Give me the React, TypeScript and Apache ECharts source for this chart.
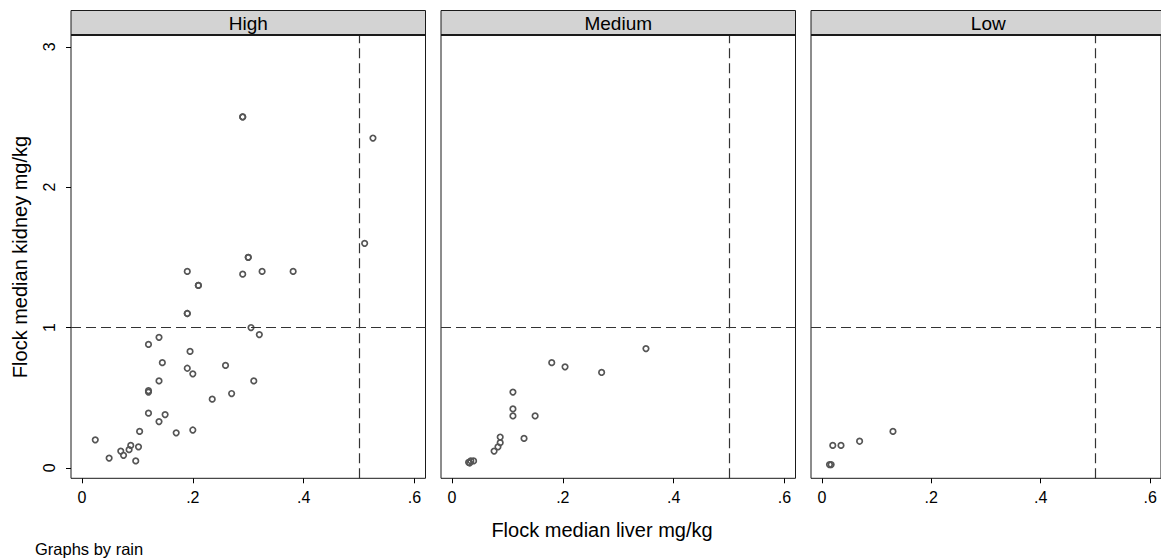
import React, { useEffect, useRef } from "react";
import * as echarts from "echarts";

const panelNames = ["High", "Medium", "Low"];

const highX = [0.510, 0.300, 0.300, 0.190, 0.290, 0.325, 0.381, 0.210, 0.210, 0.190, 0.190, 0.305, 0.320, 0.139, 0.120, 0.195, 0.145, 0.259, 0.190, 0.200, 0.139, 0.310, 0.120, 0.120, 0.270, 0.235, 0.120, 0.150, 0.139, 0.104, 0.170, 0.200, 0.024, 0.088, 0.070, 0.085, 0.102, 0.075, 0.049, 0.097, 0.290, 0.290, 0.525];
const highY = [1.60, 1.50, 1.50, 1.40, 1.38, 1.40, 1.40, 1.30, 1.30, 1.10, 1.10, 1.00, 0.95, 0.93, 0.88, 0.83, 0.75, 0.73, 0.71, 0.67, 0.62, 0.62, 0.55, 0.54, 0.53, 0.49, 0.39, 0.38, 0.33, 0.26, 0.25, 0.27, 0.20, 0.16, 0.12, 0.13, 0.15, 0.09, 0.07, 0.05, 2.50, 2.50, 2.35];

const mediumX = [0.350, 0.180, 0.204, 0.270, 0.110, 0.110, 0.110, 0.150, 0.087, 0.130, 0.087, 0.083, 0.076, 0.030, 0.034, 0.039, 0.032];
const mediumY = [0.85, 0.75, 0.72, 0.68, 0.54, 0.42, 0.37, 0.37, 0.22, 0.21, 0.18, 0.15, 0.12, 0.04, 0.05, 0.05, 0.035];

const lowX = [0.130, 0.069, 0.020, 0.035, 0.014, 0.017];
const lowY = [0.26, 0.19, 0.16, 0.16, 0.024, 0.024];

const xTicks = [0, 0.2, 0.4, 0.6];
const yTicks = [0, 1, 2, 3];
const xRef = 0.5;
const yRef = 1;

const yTitle = "Flock median kidney mg/kg";
const xTitle = "Flock median liver mg/kg";
const note = "Graphs by rain";

const FONT = "'Liberation Sans', Arial, sans-serif";

export default function App() {
  const ref = useRef<HTMLDivElement>(null);
  useEffect(() => {
    if (!ref.current) return;
    const chart = echarts.init(ref.current, null, { renderer: "svg" });
    const lefts = [71, 441, 811];
    const width = 354.5;
    const top = 35;
    const height = 443.3;
    const panelsData = [
      [highX, highY],
      [mediumX, mediumY],
      [lowX, lowY],
    ];
    const fmtX = (v: number) => (v === 0 ? "0" : v.toFixed(1).replace(/^0/, ""));

    const grids = lefts.map((l) => ({
      left: l,
      top,
      width,
      height,
      show: true,
      borderColor: "#1a1a1a",
      borderWidth: 1,
      backgroundColor: "#fff",
    }));
    const xAxes = lefts.map((_, i) => ({
      type: "value",
      gridIndex: i,
      min: -0.0198,
      max: 0.6198,
      axisLine: { show: false, onZero: false },
      splitLine: { show: false },
      axisTick: {
        show: true,
        customValues: xTicks,
        length: 5,
        lineStyle: { color: "#000", width: 1 },
      },
      axisLabel: {
        customValues: xTicks,
        formatter: fmtX,
        color: "#000",
        fontSize: 16,
        fontFamily: FONT,
        margin: 11,
      },
    }));
    const yAxes = lefts.map((_, i) => ({
      type: "value",
      gridIndex: i,
      min: -0.074,
      max: 3.084,
      axisLine: { show: false, onZero: false },
      splitLine: { show: false },
      axisTick: {
        show: i === 0,
        customValues: yTicks,
        length: 5,
        lineStyle: { color: "#000", width: 1 },
      },
      axisLabel: {
        show: i === 0,
        customValues: yTicks,
        rotate: 90,
        color: "#000",
        fontSize: 16,
        fontFamily: FONT,
        margin: 14,
      },
    }));
    const series = panelsData.map(([xs, ys], i) => ({
      type: "scatter",
      xAxisIndex: i,
      yAxisIndex: i,
      symbol: "circle",
      symbolSize: 5.5,
      itemStyle: {
        color: "rgba(0,0,0,0)",
        borderColor: "#555",
        borderWidth: 1.7,
        opacity: 1,
      },
      emphasis: { disabled: true },
      data: xs.map((x, k) => [x, ys[k]]),
      markLine: {
        silent: true,
        symbol: ["none", "none"],
        label: { show: false },
        lineStyle: { color: "#333", type: [10, 5], width: 1.2 },
        data: [{ xAxis: xRef }, { yAxis: yRef }],
      },
    }));

    const graphic: any[] = [];
    lefts.forEach((l, i) => {
      graphic.push({
        type: "rect",
        shape: { x: l, y: 10.5, width, height: 24.5 },
        style: { fill: "#d3d3d3", stroke: "#1a1a1a", lineWidth: 1 },
        z: 10,
      });
      graphic.push({
        type: "line",
        shape: { x1: l, y1: 35, x2: l + width, y2: 35 },
        style: { stroke: "#1a1a1a", lineWidth: 2 },
        z: 11,
      });
      graphic.push({
        type: "text",
        x: l + width / 2,
        y: 23,
        style: {
          text: panelNames[i],
          fill: "#000",
          font: `19px ${FONT}`,
          textAlign: "center",
          textVerticalAlign: "middle",
        },
        z: 12,
      });
    });
    graphic.push({
      type: "text",
      x: 20,
      y: 257,
      rotation: Math.PI / 2,
      style: {
        text: yTitle,
        fill: "#000",
        font: `20px ${FONT}`,
        textAlign: "center",
        textVerticalAlign: "middle",
      },
    });
    graphic.push({
      type: "text",
      x: 602,
      y: 530,
      style: {
        text: xTitle,
        fill: "#000",
        font: `20px ${FONT}`,
        textAlign: "center",
        textVerticalAlign: "middle",
      },
    });
    graphic.push({
      type: "text",
      x: 35,
      y: 549,
      style: {
        text: note,
        fill: "#000",
        font: `16.5px ${FONT}`,
        textAlign: "left",
        textVerticalAlign: "middle",
      },
    });

    chart.setOption({
      animation: false,
      backgroundColor: "#fff",
      grid: grids,
      xAxis: xAxes,
      yAxis: yAxes,
      series,
      graphic,
    } as any);
    return () => chart.dispose();
  }, []);
  return (
    <div
      ref={ref}
      style={{ position: "absolute", left: 0, top: 0, width: 1161, height: 560 }}
    />
  );
}
